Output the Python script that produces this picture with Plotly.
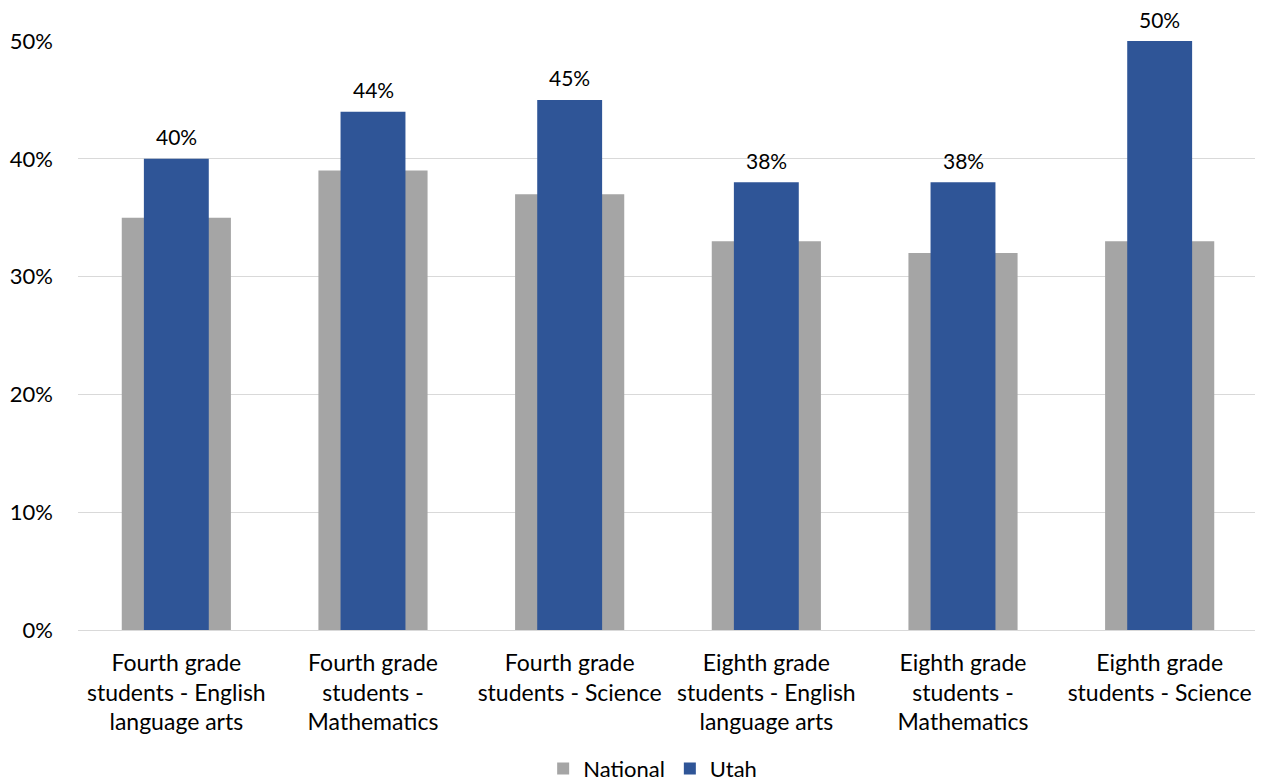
import plotly.graph_objects as go

categories = [
    "Fourth grade<br>students - English<br>language arts",
    "Fourth grade<br>students -<br>Mathematics",
    "Fourth grade<br>students - Science",
    "Eighth grade<br>students - English<br>language arts",
    "Eighth grade<br>students -<br>Mathematics",
    "Eighth grade<br>students - Science",
]
national = [0.35, 0.39, 0.37, 0.33, 0.32, 0.33]
utah = [0.40, 0.44, 0.45, 0.38, 0.38, 0.50]

FONT = "Lato"

fig = go.Figure()
fig.add_trace(go.Bar(
    x=categories, y=national, name="National",
    marker=dict(color="#a5a5a5", line=dict(width=0)),
    width=0.555, hoverinfo="y",
))
fig.add_trace(go.Bar(
    x=categories, y=utah, name="Utah",
    marker=dict(color="#2f5597", line=dict(width=0)),
    width=0.33, hoverinfo="y",
))

for c, v in zip(categories, utah):
    fig.add_annotation(x=c, y=v, text=f"{v*100:.0f}%", showarrow=False,
                       yanchor="middle", yshift=22,
                       font=dict(family=FONT, size=21, color="#000000"))

fig.update_layout(
    width=1263, height=783,
    barmode="overlay",
    paper_bgcolor="white", plot_bgcolor="white",
    margin=dict(l=70, r=13, t=33, b=161, autoexpand=False),
    font=dict(family=FONT, size=21, color="#000000"),
    showlegend=True,
    legend=dict(orientation="h", x=0.487, xanchor="center", y=-0.2, yanchor="top",
                font=dict(family=FONT, size=22, color="#000000"),
                itemwidth=30, traceorder="normal", itemsizing="constant",
                tracegroupgap=0),
    xaxis=dict(showgrid=False, showline=True, linecolor="#d9d9d9", linewidth=1,
               ticks="", automargin=False, ticklabelstandoff=12,
               tickfont=dict(family=FONT, size=23, color="#000000"),
               tickangle=0),
    yaxis=dict(range=[0, 0.5], dtick=0.1, tickformat=".0%",
               showgrid=True, gridcolor="#d9d9d9", gridwidth=1,
               zeroline=False, showline=False, ticks="", automargin=False,
               ticklabelstandoff=24,
               tickfont=dict(family=FONT, size=22, color="#000000")),
    bargap=0.2,
)

fig.write_html("out.html")
